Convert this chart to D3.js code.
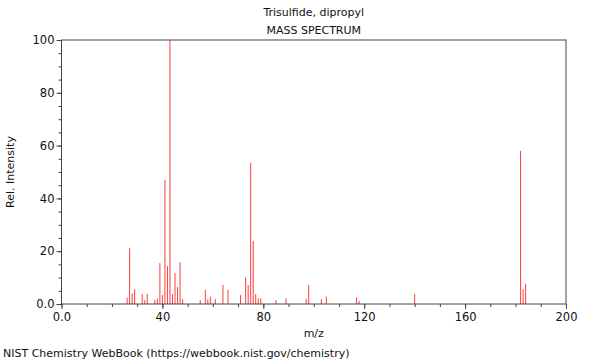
<!DOCTYPE html>
<html>
<head>
<meta charset="utf-8">
<script src="https://cdn.jsdelivr.net/npm/d3@7"></script>
<style>
  body { margin: 0; background: #fff; }
  svg text { font-family: "DejaVu Sans", sans-serif; }
</style>
</head>
<body>
<div id="chart"></div>
<script>
// peaks: m/z and relative intensity
const mz = [26, 27, 28, 29, 32, 33, 34, 37, 38, 39, 40, 41, 42, 43, 44, 45, 46, 47, 48,
    55, 57, 58, 59, 61, 64, 66, 71, 73, 74, 75, 76, 77, 78, 79, 85, 89, 97, 98,
    103, 105, 117, 118, 140, 182, 183, 184];
const intensity = [2.4, 21.1, 4.0, 5.6, 3.7, 1.5, 3.7, 1.5, 2.0, 15.5, 3.4, 47, 14.3, 100, 3.7, 11.7, 6.4, 15.8, 1.8,
    1.5, 5.3, 1.8, 2.8, 1.8, 7.2, 5.3, 3.4, 10, 7.2, 53.5, 23.9, 3.8, 2.1, 2.1, 1.5, 2.1, 1.9, 7.2,
    1.8, 2.8, 2.5, 1.1, 3.8, 58, 5.6, 7.7];
const xMajor = [0, 40, 80, 120, 160, 200];
const yMajor = [0, 20, 40, 60, 80, 100];
const titleLines = ["Trisulfide, dipropyl", "MASS SPECTRUM"];

const margin = {top: 40, right: 34, bottom: 56, left: 61.5};
const W = 600, H = 360;
const width = W - margin.left - margin.right;
const height = H - margin.top - margin.bottom;

const svg = d3.select("#chart").append("svg")
    .attr("width", W)
    .attr("height", H);

const g = svg.append("g")
    .attr("transform", `translate(${margin.left}, ${margin.top})`);

const x = d3.scaleLinear().domain([0, 200]).range([0, width]);
const y = d3.scaleLinear().domain([0, 100]).range([height, 0]);

const fmt = d => d === 0 ? "0.0" : d;
const axisColor = "#444";

// minor ticks
g.append("g")
    .attr("transform", `translate(0, ${height})`)
    .call(d3.axisBottom(x).tickValues(d3.range(0, 201, 10)).tickSize(3).tickFormat(""))
    .call(a => a.select(".domain").remove());
g.append("g")
    .call(d3.axisLeft(y).tickValues(d3.range(0, 101, 5)).tickSize(3).tickFormat(""))
    .call(a => a.select(".domain").remove());

// major ticks with labels
g.append("g")
    .attr("transform", `translate(0, ${height})`)
    .call(d3.axisBottom(x).tickValues(xMajor).tickSize(5).tickPadding(4).tickFormat(fmt))
    .call(a => a.select(".domain").remove());
g.append("g")
    .call(d3.axisLeft(y).tickValues(yMajor).tickSize(5).tickPadding(2).tickFormat(fmt))
    .call(a => a.select(".domain").remove());

g.selectAll(".tick line").attr("stroke", axisColor);
g.selectAll(".tick text").attr("font-size", 11.5).attr("fill", "#111");

// peaks
g.selectAll(".peak")
    .data(mz)
    .enter().append("line")
    .attr("class", "peak")
    .attr("x1", d => x(d))
    .attr("x2", d => x(d))
    .attr("y1", y(0))
    .attr("y2", (d, i) => y(intensity[i]))
    .attr("stroke", "#ff3b3b")
    .attr("stroke-width", 1);

// frame
g.append("rect")
    .attr("x", 0)
    .attr("y", 0)
    .attr("width", width)
    .attr("height", height)
    .attr("fill", "none")
    .attr("stroke", axisColor)
    .attr("stroke-width", 1);

// titles
svg.selectAll(".title")
    .data(titleLines)
    .enter().append("text")
    .attr("class", "title")
    .attr("x", margin.left + width / 2)
    .attr("y", (d, i) => 16 + i * 18)
    .attr("text-anchor", "middle")
    .attr("font-size", 11)
    .attr("fill", "#111")
    .text(d => d);

svg.append("text")
    .attr("x", margin.left + width / 2)
    .attr("y", 337)
    .attr("text-anchor", "middle")
    .attr("font-size", 11)
    .attr("fill", "#111")
    .text("m/z");

svg.append("text")
    .attr("transform", `translate(14, ${margin.top + height / 2}) rotate(-90)`)
    .attr("text-anchor", "middle")
    .attr("font-size", 11)
    .attr("fill", "#111")
    .text("Rel. Intensity");

svg.append("text")
    .attr("x", 3)
    .attr("y", 357)
    .attr("font-size", 11)
    .attr("fill", "#111")
    .text("NIST Chemistry WebBook (https://webbook.nist.gov/chemistry)");
</script>
</body>
</html>
